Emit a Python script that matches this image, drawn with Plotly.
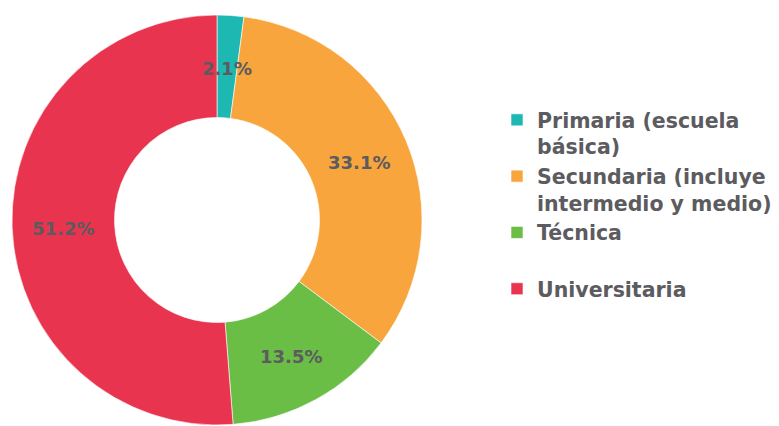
import math
import plotly.graph_objects as go

# Nivel educativo: share of each category (%)
labels = ["Primaria (escuela<br>básica)",
          "Secundaria (incluye<br>intermedio y medio)",
          "Técnica<br>&nbsp;",
          "Universitaria"]
values = [2.1, 33.1, 13.5, 51.2]
colors = ["#1db8b2", "#f7a53c", "#6abd45", "#e9344f"]

W, H = 779, 426
cx, cy, R = 217, 220, 205          # donut centre and outer radius (px)
hole = 0.5
text_color = "#5b5b60"
font_family = "DejaVu Sans"

fig = go.Figure(go.Pie(
    labels=labels,
    values=values,
    hole=hole,
    sort=False,
    direction="clockwise",
    rotation=0,
    marker=dict(colors=colors, line=dict(color="white", width=0.6)),
    textinfo="none",
    hoverinfo="label+value",
    domain=dict(x=[(cx - R) / W, (cx + R) / W],
                y=[1 - (cy + R) / H, 1 - (cy - R) / H]),
))

# value labels centred in the ring at each slice's mid-angle
total = sum(values)
r_mid = R * (1 + hole) / 2
cum = 0.0
for v in values:
    ang = 2 * math.pi * (cum + v / 2) / total
    cum += v
    px = cx + r_mid * math.sin(ang)
    py = cy - r_mid * math.cos(ang) + 2
    fig.add_annotation(
        x=px / W, y=1 - py / H, xref="paper", yref="paper",
        xanchor="center", yanchor="middle",
        text=f"{v:.1f}%", showarrow=False,
        font=dict(family=font_family, size=18, color=text_color, weight=700),
    )

fig.update_layout(
    width=W, height=H,
    margin=dict(l=0, r=0, t=0, b=0, autoexpand=False),
    paper_bgcolor="white",
    plot_bgcolor="white",
    showlegend=True,
    legend=dict(
        x=497 / W, y=1 - 100 / H, xanchor="left", yanchor="top",
        valign="top",
        font=dict(family=font_family, size=20.5, color=text_color, weight=700),
        itemclick=False,
    ),
)

fig.write_html("out.html")
